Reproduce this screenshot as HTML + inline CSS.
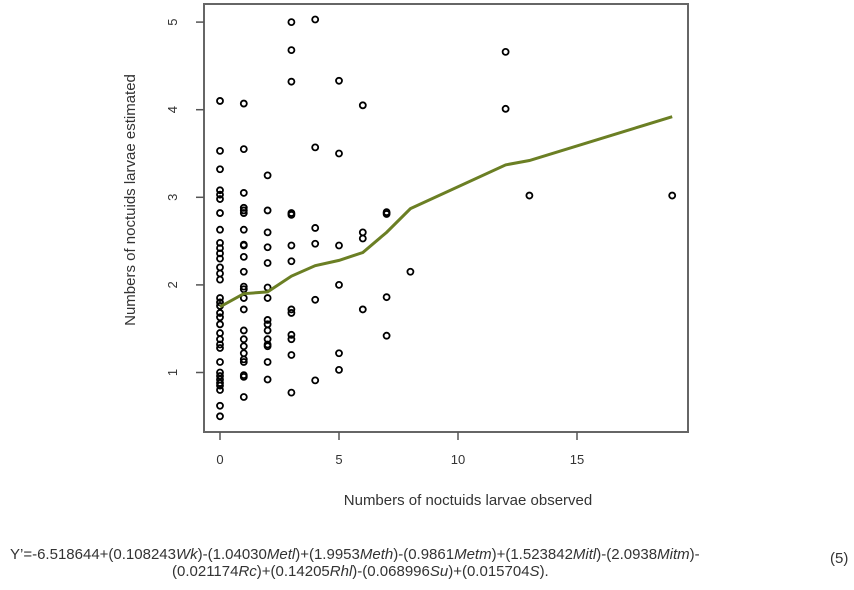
<!DOCTYPE html>
<html><head><meta charset="utf-8"><style>
body{margin:0;background:#fff;width:854px;height:590px;overflow:hidden;font-family:"Liberation Sans",sans-serif}
.eq{position:absolute;font-size:15px;color:#333;letter-spacing:0;white-space:nowrap}
</style></head><body>
<svg id="chart" width="854" height="540" style="position:absolute;left:0;top:0" font-family="Liberation Sans, sans-serif"></svg>
<div class="eq" style="left:10px;top:546px">Y’=-6.518644+(0.108243<i>Wk</i>)-(1.04030<i>Metl</i>)+(1.9953<i>Meth</i>)-(0.9861<i>Metm</i>)+(1.523842<i>Mitl</i>)-(2.0938<i>Mitm</i>)-</div>
<div class="eq" style="left:172px;top:563px">(0.021174<i>Rc</i>)+(0.14205<i>Rhl</i>)-(0.068996<i>Su</i>)+(0.015704<i>S</i>).</div>
<div class="eq" style="left:830px;top:550px">(5)</div>
<script>
const xTicks=[0,5,10,15];
const yTicks=[1,2,3,4,5];
const ptX=[0,1,2,3,4,5,6,7,8,12,13,19];
const ptY=[
[4.1,3.53,3.32,3.08,3.03,2.98,2.82,2.63,2.48,2.42,2.36,2.3,2.2,2.13,2.06,1.85,1.8,1.76,1.68,1.63,1.55,1.45,1.38,1.32,1.28,1.12,1.0,0.96,0.92,0.88,0.85,0.8,0.62,0.5],
[4.07,3.55,3.05,2.88,2.85,2.82,2.63,2.46,2.45,2.32,2.15,1.98,1.95,1.85,1.72,1.48,1.38,1.3,1.22,1.15,1.12,0.97,0.95,0.72],
[3.25,2.85,2.6,2.43,2.25,1.97,1.85,1.6,1.55,1.48,1.38,1.32,1.3,1.12,0.92],
[5.0,4.68,4.32,2.82,2.8,2.45,2.27,1.72,1.68,1.43,1.38,1.2,0.77],
[5.03,3.57,2.65,2.47,1.83,0.91],
[4.33,3.5,2.45,2.0,1.22,1.03],
[4.05,2.6,2.53,1.72],
[2.83,2.81,1.86,1.42],
[2.15],
[4.66,4.01],
[3.02],
[3.02]];
const lineX=[0,1,2,3,4,5,6,7,8,12,13,19];
const lineY=[1.75,1.9,1.92,2.1,2.22,2.28,2.37,2.6,2.87,3.37,3.42,3.92];
const sx=v=>220+v*23.8;
const sy=v=>372.5-(v-1)*87.6;
const svg=document.getElementById('chart');
const NS='http://www.w3.org/2000/svg';
function mk(t,a){const e=document.createElementNS(NS,t);for(const k in a)e.setAttribute(k,a[k]);svg.appendChild(e);return e;}
let box=mk('rect',{x:204,y:4,width:484,height:428,fill:'none',stroke:'#666','stroke-width':2});


xTicks.forEach(t=>{
 let l=mk('line',{x1:sx(t),x2:sx(t),y1:432,y2:440,stroke:'#555','stroke-width':1.5});
 
 
 let tx=mk('text',{x:sx(t),y:464,'text-anchor':'middle','font-size':13,fill:'#333'});
 tx.textContent=t;
 
 
});
yTicks.forEach(t=>{
 let l=mk('line',{x1:196,x2:204,y1:sy(t),y2:sy(t),stroke:'#555','stroke-width':1.5});
 
 
 let tx=mk('text',{x:0,y:0,'text-anchor':'middle','font-size':13,fill:'#333',transform:`translate(177,${sy(t)}) rotate(-90)`});
 tx.textContent=t;
 
 
});
ptX.forEach((x,i)=>ptY[i].forEach(y=>{
 let c=mk('circle',{cx:sx(x),cy:sy(y),r:3,fill:'none',stroke:'#000','stroke-width':1.8});
 
 
}));
let p=mk('polyline',{points:lineX.map((x,i)=>sx(x)+','+sy(lineY[i])).join(' '),fill:'none',stroke:'#6b7f24','stroke-width':3});


let xt=mk('text',{x:468,y:505,'text-anchor':'middle','font-size':15,fill:'#333'});
xt.textContent='Numbers of noctuids larvae observed';


let yt=mk('text',{x:0,y:0,'text-anchor':'middle','font-size':15,fill:'#333',transform:'translate(135,200) rotate(-90)'});
yt.textContent='Numbers of noctuids larvae estimated';


</script>
</body></html>
